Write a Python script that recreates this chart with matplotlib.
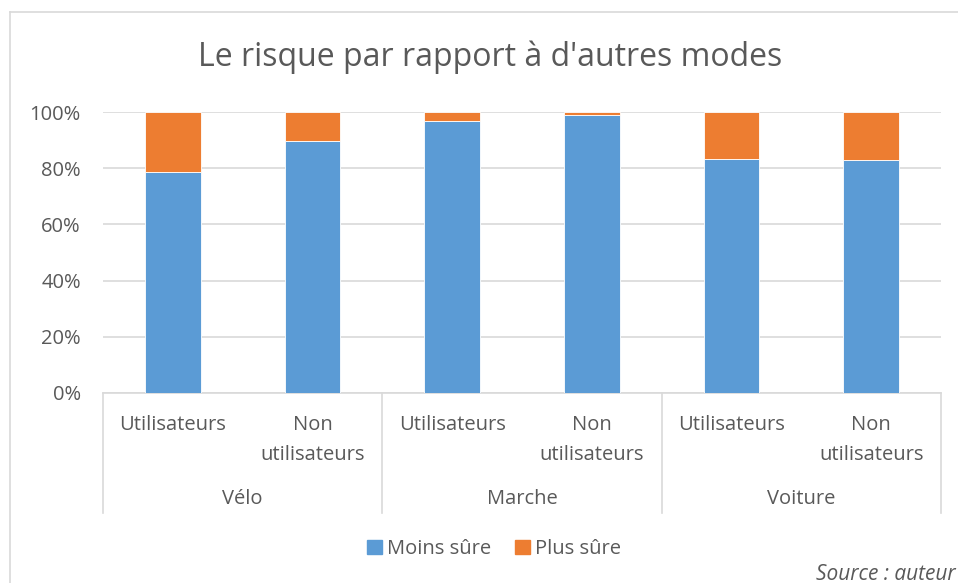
import matplotlib.pyplot as plt
from matplotlib.lines import Line2D
from matplotlib.patches import Patch

plt.rcParams['font.family'] = ['Open Sans', 'DejaVu Sans']

modes = ['Vélo', 'Marche', 'Voiture']
sub_labels = ['Utilisateurs', 'Non\nutilisateurs'] * 3
moins_sure = [78.6, 89.6, 96.7, 99.0, 83.2, 82.8]
plus_sure = [100 - v for v in moins_sure]

blue = '#5b9bd5'
orange = '#ed7d31'
grey_txt = '#595959'
grid_c = '#d9d9d9'
fs = 14.5

W, H = 958, 583
fig = plt.figure(figsize=(W / 100, H / 100), dpi=100)

# outer frame (left + top visible)
fig.add_artist(Line2D([10 / W, 10 / W], [0, 1 - 12 / H], color=grid_c, lw=1.2))
fig.add_artist(Line2D([10 / W, 1], [1 - 12 / H, 1 - 12 / H], color=grid_c, lw=1.2))

ax = fig.add_axes([103 / W, 1 - 393 / H, (941 - 103) / W, (393 - 112) / H])
x = list(range(len(moins_sure)))
ax.bar(x, moins_sure, width=0.4, color=blue, edgecolor='white', linewidth=0.6, zorder=3)
ax.bar(x, plus_sure, width=0.4, bottom=moins_sure, color=orange, edgecolor='white', linewidth=0.6, zorder=3)

ax.set_xlim(-0.5, len(x) - 0.5)
ax.set_ylim(0, 100)
ax.set_yticks([0, 20, 40, 60, 80, 100])
ax.set_yticklabels([f'{v}%' for v in [0, 20, 40, 60, 80, 100]], fontsize=fs, color=grey_txt)
ax.tick_params(axis='y', length=0, pad=16)
ax.set_xticks([])
ax.grid(axis='y', color=grid_c, lw=1.2, zorder=0)
for s in ['top', 'right', 'left']:
    ax.spines[s].set_visible(False)
ax.spines['bottom'].set_color(grid_c)
ax.spines['bottom'].set_linewidth(1.2)

tr = ax.get_xaxis_transform()
px = 1 / (393 - 112)
# sub-category labels
for i, lab in enumerate(sub_labels):
    if '\n' in lab:
        ax.text(i, -22 * px, lab, transform=tr, ha='center', va='top',
                fontsize=fs, color=grey_txt, linespacing=1.7)
    else:
        ax.text(i, -32 * px, lab, transform=tr, ha='center', va='center',
                fontsize=fs, color=grey_txt)
# group labels and separators
for g, m in enumerate(modes):
    ax.text(2 * g + 0.5, -106 * px, m, transform=tr, ha='center', va='center', fontsize=fs, color=grey_txt)
for b in range(4):
    ax.plot([2 * b - 0.5, 2 * b - 0.5], [0, -120 * px], transform=tr, color=grid_c, lw=1.2, clip_on=False)

fig.text(490 / W, 1 - 57 / H, "Le risque par rapport à d'autres modes", ha='center', va='center',
         fontsize=23, color=grey_txt)

handles = [Patch(color=blue, label='Moins sûre'), Patch(color=orange, label='Plus sûre')]
fig.legend(handles=handles, loc='center', bbox_to_anchor=(494 / W, 1 - 549 / H), ncol=2, frameon=False,
           fontsize=fs, handlelength=0.75, handleheight=0.75, handletextpad=0.25, columnspacing=1.2,
           labelcolor=grey_txt)

fig.text(816 / W, 1 - 574 / H, 'Source : auteur', ha='left', va='center', fontsize=15,
         style='italic', color=grey_txt)

fig.savefig('out.png', dpi=100)
